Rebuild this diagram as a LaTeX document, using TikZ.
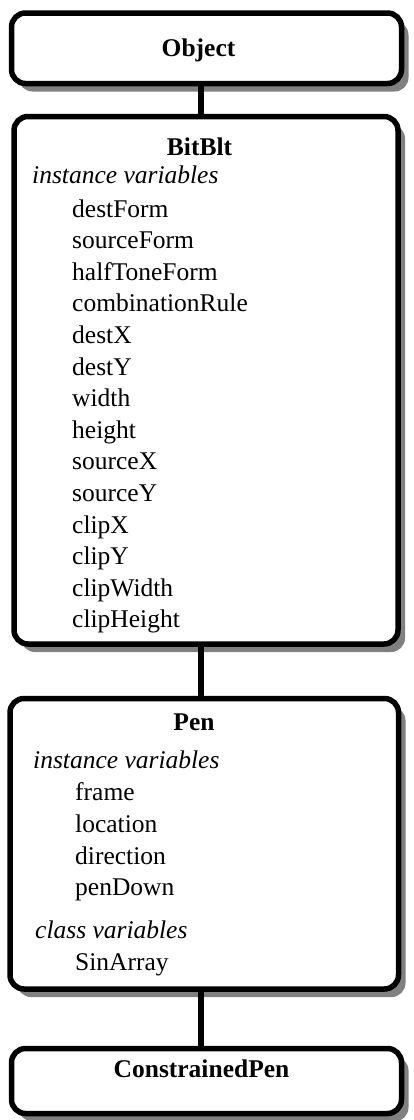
\documentclass[tikz,border=0pt]{standalone}
\usepackage{fontspec}
\setmainfont{Liberation Serif}
\usetikzlibrary{shadows}
\begin{document}
\begin{tikzpicture}[x=1pt,y=-1pt,
  classbox/.style={draw=black, fill=white, line width=5.5pt, rounded corners=14pt,
    inner sep=0pt, outer sep=0pt,
    drop shadow={shadow xshift=7pt, shadow yshift=-8pt, fill=black!50, opacity=1}},
  conn/.style={draw=black, line width=5.5pt},
  title/.style={anchor=base, inner sep=0pt, font=\fontsize{25.5}{31.6}\selectfont\bfseries},
  lbl/.style={anchor=base west, inner sep=0pt, font=\fontsize{25.5}{31.6}\selectfont},
  cat/.style={anchor=base west, inner sep=0pt, font=\fontsize{25.5}{31.6}\selectfont\itshape}]
\useasboundingbox (0,0) rectangle (414,1120);
% boxes
\node[classbox, minimum width=390pt, minimum height=70.5pt] (obj) at (206.5,48.25) {};
\node[classbox, minimum width=384pt, minimum height=527.5pt] (bit) at (206,380.25) {};
\node[classbox, minimum width=388.5pt, minimum height=290.5pt] (pen) at (204.25,843.75) {};
\node[classbox, minimum width=390pt, minimum height=65pt] (cpen) at (206.5,1081) {};
% connectors
\coordinate (cx) at (201,0);
\draw[conn] (obj.south -| cx) -- (bit.north -| cx);
\draw[conn] (bit.south -| cx) -- (pen.north -| cx);
\draw[conn] (pen.south -| cx) -- (cpen.north -| cx);
% Object
\node[title] (tobj) at (198.5,56) {Object};
% BitBlt
\node[title] (tbit) at (199.5,155) {BitBlt};
\node[cat] (biv) at (32,183) {instance variables};
\node[lbl] (b1) at (72,217) {destForm};
\node[lbl] (b2) at (72,248.6) {sourceForm};
\node[lbl] (b3) at (72,280.2) {halfToneForm};
\node[lbl] (b4) at (72,311.8) {combinationRule};
\node[lbl] (b5) at (72,343.4) {destX};
\node[lbl] (b6) at (72,375) {destY};
\node[lbl] (b7) at (72,406.6) {width};
\node[lbl] (b8) at (72,438.2) {height};
\node[lbl] (b9) at (72,469.8) {sourceX};
\node[lbl] (b10) at (72,501.4) {sourceY};
\node[lbl] (b11) at (72,533) {clipX};
\node[lbl] (b12) at (72,564.6) {clipY};
\node[lbl] (b13) at (72,596.2) {clipWidth};
\node[lbl] (b14) at (72,627.8) {clipHeight};
% Pen
\node[title] (tpen) at (194,730) {Pen};
\node[cat] (piv) at (33,768) {instance variables};
\node[lbl] (p1) at (75,800) {frame};
\node[lbl] (p2) at (75,832) {location};
\node[lbl] (p3) at (75,864) {direction};
\node[lbl] (p4) at (75,895) {penDown};
\node[cat] (pcv) at (35,938) {class variables};
\node[lbl] (p5) at (75,970) {SinArray};
% ConstrainedPen
\node[title] (tcpen) at (201.5,1077) {ConstrainedPen};
\end{tikzpicture}
\end{document}
